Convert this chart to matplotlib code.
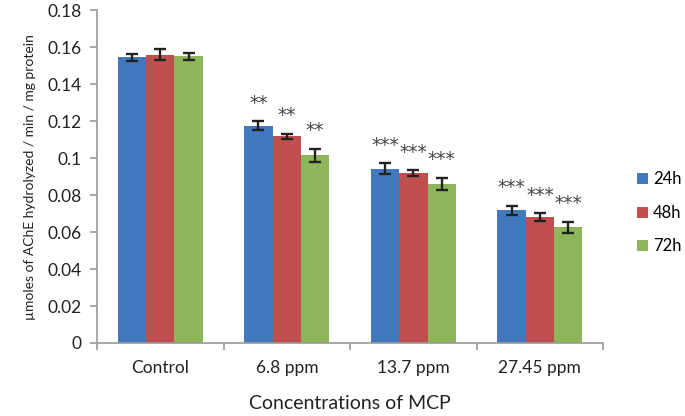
import numpy as np
import matplotlib
matplotlib.use("Agg")
import matplotlib.pyplot as plt

plt.rcParams['font.family'] = ['Lato', 'DejaVu Sans']

# data
groups = ['Control', '6.8 ppm', '13.7 ppm', '27.45 ppm']
series = ['24h', '48h', '72h']
vals_24 = [0.1545, 0.1175, 0.0942, 0.0718]
vals_48 = [0.1558, 0.1117, 0.0920, 0.0682]
vals_72 = [0.1550, 0.1015, 0.0860, 0.0625]
err_24 = [0.0020, 0.0025, 0.0030, 0.0025]
err_48 = [0.0030, 0.0015, 0.0015, 0.0020]
err_72 = [0.0020, 0.0035, 0.0035, 0.0030]
stars_24 = ['', '**', '***', '***']
stars_48 = ['', '**', '***', '***']
stars_72 = ['', '**', '***', '***']

colors = ['#4178BE', '#C0504D', '#8DB65A']
vals = [vals_24, vals_48, vals_72]
errs = [err_24, err_48, err_72]
stars = [stars_24, stars_48, stars_72]

fig = plt.figure(figsize=(6.85, 4.16), dpi=100)
ax = fig.add_axes([0.1416, 0.1755, 0.739, 0.80])

x = np.arange(len(groups))
w = 0.224
for i in range(3):
    pos = x + (i - 1) * w
    ax.bar(pos, vals[i], w, color=colors[i], label=series[i], zorder=2)
    ax.errorbar(pos, vals[i], yerr=errs[i], fmt='none', ecolor='#222222',
                elinewidth=1.7, capsize=4, capthick=1.7, zorder=3)
    for p, v, e, s in zip(pos, vals[i], errs[i], stars[i]):
        if s:
            ax.annotate(s, (p, v + e), xytext=(0, 13), textcoords='offset points',
                        ha='center', va='center', fontsize=13.5, color='#444444',
                        family='DejaVu Sans')

ax.set_xlim(-0.5, len(groups) - 0.5)
ax.set_ylim(0, 0.18)
ax.set_yticks(np.arange(0, 0.181, 0.02))
ax.set_yticklabels(['0', '0.02', '0.04', '0.06', '0.08', '0.1', '0.12',
                    '0.14', '0.16', '0.18'])
ax.set_xticks(x)
ax.set_xticklabels(groups)
ax.set_xticks(np.arange(-0.5, len(groups)), minor=True)

for side in ['top', 'right']:
    ax.spines[side].set_visible(False)
for side in ['left', 'bottom']:
    ax.spines[side].set_color('#999999')
    ax.spines[side].set_linewidth(1.2)

ax.tick_params(axis='y', colors='#999999', labelcolor='#222222', labelsize=12.5,
               length=5, width=1.2, pad=6)
ax.tick_params(axis='x', which='major', length=0, labelsize=12.5,
               labelcolor='#222222', pad=12)
ax.tick_params(axis='x', which='minor', length=5, width=1.2, colors='#999999')

ax.set_xlabel('Concentrations of MCP', fontsize=14, color='#222222', labelpad=14)
ax.set_ylabel('µmoles of AChE hydrolyzed / min / mg protein', fontsize=10,
              color='#222222', labelpad=8)

fig.legend(loc='center left', bbox_to_anchor=(0.93, 0.488), frameon=False,
           fontsize=12, handlelength=0.65, handleheight=0.65, handletextpad=0.3,
           labelspacing=1.05, borderaxespad=0, borderpad=0)

fig.savefig('out.png', dpi=100)
